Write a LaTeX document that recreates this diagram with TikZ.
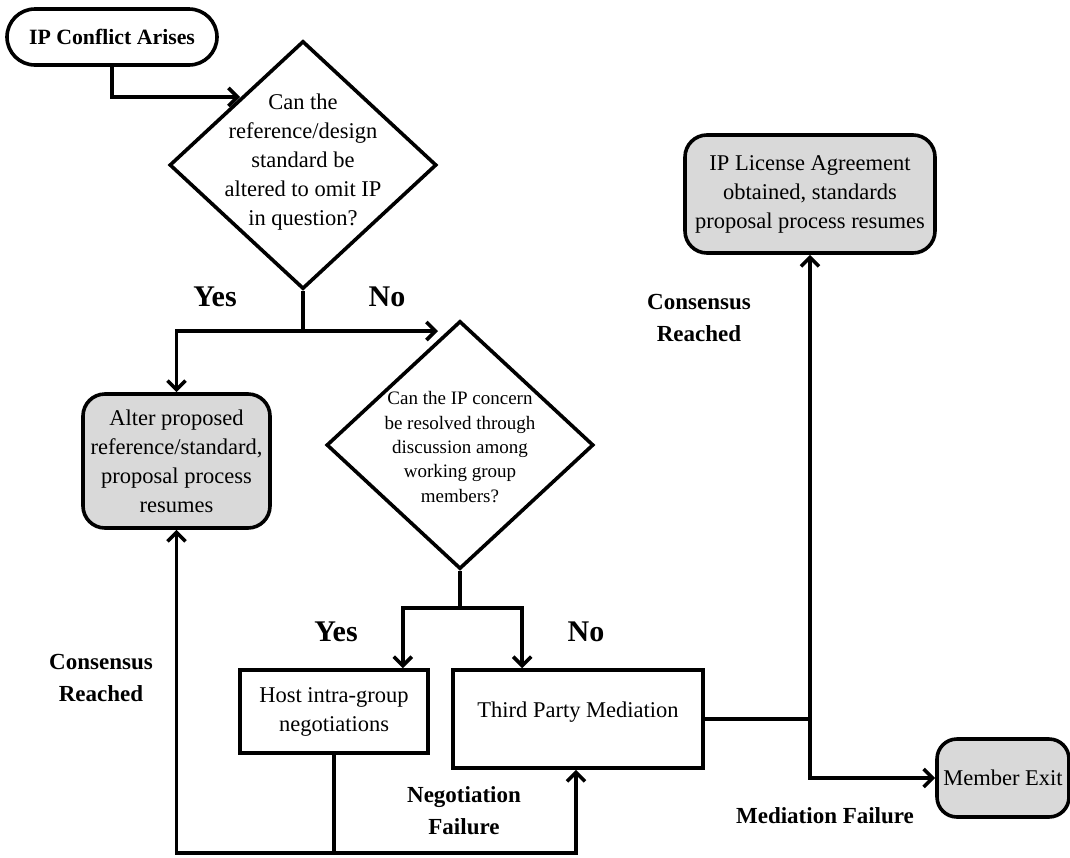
\documentclass[tikz,border=0pt]{standalone}
\usepackage{fontspec}
\setmainfont{Liberation Serif}
\usetikzlibrary{arrows.meta,shapes.geometric}
\begin{document}
\begin{tikzpicture}[x=1pt,y=-1pt,
  line/.style={line width=3.6pt},
  arr/.style={line, -{Straight Barb[length=9pt,width=18pt]}},
  body/.style={font=\fontsize{22.5}{29}\selectfont, align=center},
  smallbody/.style={font=\fontsize{19}{24.4}\selectfont, align=center},
  lbl/.style={font=\bfseries\fontsize{23}{32}\selectfont, align=center},
  yesno/.style={font=\bfseries\fontsize{30}{34}\selectfont},
  pill/.style={draw, line, rounded corners=28pt, minimum width=210pt, minimum height=56pt, inner sep=0pt,
    font=\bfseries\fontsize{21.8}{26}\selectfont},
  decision/.style={draw, line, diamond, minimum width=267pt, minimum height=248pt, inner sep=0pt},
  outcome/.style={draw, line, fill=gray!30, rounded corners=22pt, inner sep=0pt, body},
  task/.style={draw, line, inner sep=0pt, body},
]
\useasboundingbox (0,0) rectangle (1070,857);

% start and decisions
\node[pill] (start) at (112,37) {IP Conflict Arises};
\node[decision] (d1) at (303,165) {};
\node[body] (d1t) at (303,162) {Can the\\reference/design\\standard be\\altered to omit IP\\in question?};
\node[decision] (d2) at (460,445) {};
\node[smallbody] (d2t) at (460,447) {Can the IP concern\\be resolved through\\discussion among\\working group\\members?};

% outcomes and actions
\node[outcome, minimum width=187pt, minimum height=134pt] (alter) at (176.5,461)
  {Alter proposed\\reference/standard,\\proposal process\\resumes};
\node[outcome, minimum width=250pt, minimum height=118pt] (license) at (810,194)
  {IP License Agreement\\obtained, standards\\proposal process resumes};
\node[task, minimum width=188pt, minimum height=83pt] (host) at (334,711.5)
  {Host intra-group\\negotiations};
\node[task, minimum width=250pt, minimum height=98pt, text depth=18pt] (third) at (578,719)
  {Third Party Mediation};
\node[outcome, rounded corners=20pt, minimum width=132pt, minimum height=78pt] (exit) at (1003,778)
  {Member Exit};

% junction points
\coordinate (a1) at (240,97);
\coordinate (j1) at (303,331);
\coordinate (a2) at (438,331);
\coordinate (j2) at (460,608);
\coordinate (b) at (334,853);
\coordinate (j3) at (810,719);

% connectors
\draw[arr] (start.south) |- (a1);
\draw[line] (d1.south) -- (j1);
\draw[arr] (j1) -- (a2);
\draw[arr] (j1) -| (alter.north);
\draw[line] (d2.south) -- (j2);
\draw[arr] (j2) -| ([xshift=-27pt]host.north east);
\draw[arr] (j2) -| ([xshift=71pt]third.north west);
\draw[line] (host.south) -- (b);
\draw[arr] (b) -| (alter.south);
\draw[arr] (b) -| ([xshift=-2pt]third.south);
\draw[line] (third.east |- j3) -- (j3);
\draw[arr] (j3) -- (license.south);
\draw[arr] (j3) |- (exit.west);

% branch labels
\node[yesno] (y1) at (215,297) {Yes};
\node[yesno] (n1) at (387,297) {No};
\node[yesno] (y2) at (336,632) {Yes};
\node[yesno] (n2) at (586,632) {No};
\node[lbl] (c1) at (101,678) {Consensus\\Reached};
\node[lbl] (c2) at (699,318) {Consensus\\Reached};
\node[lbl] (nf) at (464,811) {Negotiation\\Failure};
\node[lbl] (mf) at (825,816) {Mediation Failure};
\end{tikzpicture}
\end{document}
